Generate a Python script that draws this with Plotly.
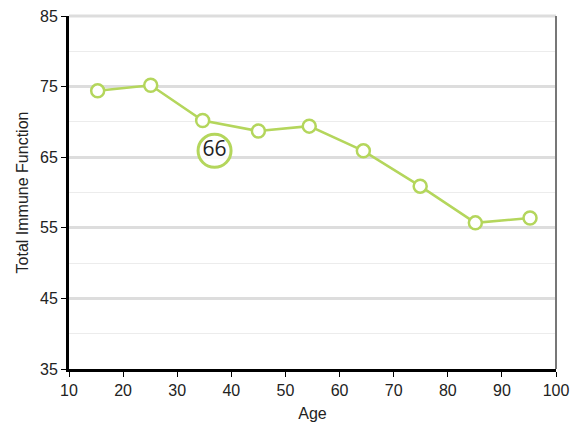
import plotly.graph_objects as go

ages = [15.3, 25.1, 34.7, 45.0, 54.4, 64.4, 74.9, 85.1, 95.2]
immune = [74.4, 75.2, 70.2, 68.7, 69.4, 65.9, 60.9, 55.7, 56.4]

hover_age = [36.9]
hover_value = [65.9]
hover_label = ["66"]

green = "#b4d65c"

fig = go.Figure()
fig.add_trace(go.Scatter(
    x=ages, y=immune, mode="lines+markers",
    line=dict(color=green, width=2.5),
    marker=dict(symbol="circle", size=13, color="white", line=dict(color=green, width=2.5)),
    showlegend=False, hoverinfo="skip", cliponaxis=False))
fig.add_trace(go.Scatter(
    x=hover_age, y=hover_value, mode="markers+text",
    text=hover_label, textposition="middle center",
    textfont=dict(family="Open Sans, sans-serif", size=21, color="#222"),
    marker=dict(symbol="circle", size=33, color="rgba(255,255,255,0.85)", line=dict(color=green, width=3)),
    showlegend=False, hoverinfo="skip"))

# page body has an 8px margin: figure is 574x414 placed at (8, 8)
fig.update_layout(
    width=574, height=414,
    margin=dict(l=61, r=26, t=8, b=53),
    paper_bgcolor="white", plot_bgcolor="white",
    font=dict(family="Liberation Sans, Arial, sans-serif", size=16, color="#222"),
    xaxis=dict(range=[10, 100], tick0=10, dtick=10, showgrid=False, zeroline=False, automargin=False,
               showline=True, linecolor="black", linewidth=3, ticklabeloverflow="allow",
               ticks="outside", ticklen=5, tickcolor="black", tickwidth=1,
               tickfont=dict(size=16),
               title=dict(text="Age", font=dict(size=16), standoff=10)),
    yaxis=dict(range=[35, 85], tick0=35, dtick=10, showgrid=True, gridcolor="#dddddd", gridwidth=3,
               zeroline=False, automargin=False, showline=True, linecolor="black", linewidth=3,
               ticklabeloverflow="allow",
               ticks="outside", ticklen=5, tickcolor="black", tickwidth=1,
               tickfont=dict(size=16),
               minor=dict(dtick=5, tick0=35, showgrid=True, gridcolor="#ececec", gridwidth=1, ticks=""),
               title=dict(text="Total Immune Function", font=dict(size=16), standoff=8)),
    shapes=[dict(type="line", xref="paper", yref="paper", x0=0, x1=1, y0=1, y1=1,
                 line=dict(color="#dddddd", width=3), layer="below"),
            dict(type="line", xref="paper", yref="paper", x0=1, x1=1, y0=0, y1=1,
                 line=dict(color="#777777", width=2))],
)

fig.write_html("out.html")
